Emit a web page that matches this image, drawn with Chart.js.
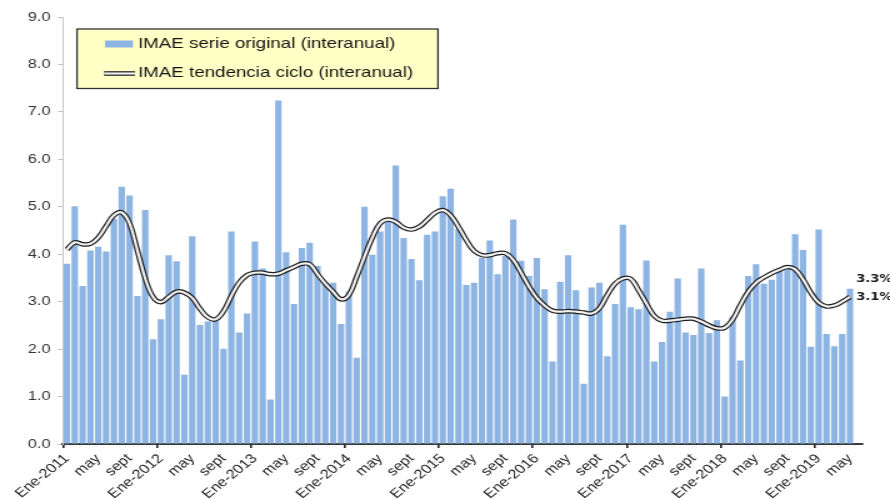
<!DOCTYPE html>
<html>
<head>
<meta charset="utf-8">
<script src="https://cdn.jsdelivr.net/npm/chart.js@4.4.1/dist/chart.umd.min.js"></script>
<style>
  html, body { margin: 0; padding: 0; background: #ffffff; overflow: hidden; }
  #wrap { width: 890px; height: 500px; overflow: hidden; }
  /* the chart is laid out narrow and widened horizontally, like the original export */
  #c { display: block; transform: scaleX(1.25); transform-origin: 0 0; }
</style>
</head>
<body>
<div id="wrap"><canvas id="c" width="712" height="500" style="width:712px;height:500px"></canvas></div>
<script>
// IMAE, variación interanual (%), enero 2011 - mayo 2019
const years = [2011, 2012, 2013, 2014, 2015, 2016, 2017, 2018, 2019];
const monthTicks = ['Ene', '', '', '', 'may', '', '', '', 'sept', '', '', ''];

const serieOriginal = [
  3.80, 5.01, 3.33, 4.08, 4.16, 4.06, 4.75, 5.42, 5.24, 3.12, 4.93, 2.21,
  2.63, 3.98, 3.85, 1.46, 4.38, 2.51, 2.58, 2.60, 2.01, 4.48, 2.35, 2.75,
  4.27, 3.70, 0.94, 7.24, 4.04, 2.95, 4.13, 4.24, 3.75, 3.40, 3.40, 2.53,
  3.21, 1.82, 5.00, 3.99, 4.48, 4.72, 5.87, 4.34, 3.90, 3.45, 4.41, 4.48,
  5.22, 5.38, 4.53, 3.35, 3.40, 3.92, 4.29, 3.58, 3.96, 4.73, 3.86, 3.54,
  3.92, 3.26, 1.74, 3.42, 3.98, 3.24, 1.27, 3.30, 3.40, 1.85, 2.95, 4.62,
  2.88, 2.84, 3.87, 1.74, 2.15, 2.79, 3.49, 2.35, 2.30, 3.70, 2.34, 2.61,
  1.00, 2.68, 1.76, 3.54, 3.79, 3.38, 3.46, 3.66, 3.77, 4.42, 4.09, 2.05,
  4.52, 2.32, 2.06, 2.32, 3.27
];

const tendenciaCiclo = [
  4.10, 4.25, 4.21, 4.22, 4.35, 4.59, 4.82, 4.88, 4.65, 4.08, 3.49, 3.10,
  2.99, 3.10, 3.21, 3.19, 3.08, 2.85, 2.67, 2.63, 2.80, 3.12, 3.40, 3.56,
  3.61, 3.61, 3.58, 3.59, 3.66, 3.73, 3.80, 3.79, 3.58, 3.38, 3.21, 3.05,
  3.14, 3.52, 3.95, 4.35, 4.65, 4.73, 4.68, 4.56, 4.52, 4.58, 4.72, 4.87,
  4.93, 4.82, 4.58, 4.30, 4.07, 3.98, 3.98, 4.02, 4.02, 3.88, 3.61, 3.32,
  3.08, 2.92, 2.81, 2.79, 2.80, 2.79, 2.77, 2.75, 2.86, 3.14, 3.38, 3.49,
  3.48, 3.24, 2.96, 2.70, 2.60, 2.60, 2.62, 2.64, 2.64, 2.58, 2.50, 2.44,
  2.45, 2.62, 2.93, 3.21, 3.40, 3.51, 3.60, 3.67, 3.73, 3.68, 3.47, 3.19,
  2.98, 2.90, 2.92, 3.00, 3.10
];

const yTicks = [0, 1, 2, 3, 4, 5, 6, 7, 8, 9];

// category labels: one per month plus a trailing empty slot at the end of the axis
const categories = [];
years.forEach(y => monthTicks.forEach((m, i) => {
  categories.push(i === 0 ? m + '-' + y : m);
}));
categories.length = serieOriginal.length;
categories.push('');

const BAR_BLUE = '#8DB4E2';
const LINE_OUT = '#1e1e1e';
const LINE_IN = '#f0f0f0';
const FONT = 'Liberation Sans, Arial, sans-serif';

// framed yellow legend inside the plot
const legendBox = {
  id: 'legendBox',
  afterDraw(chart) {
    const ctx = chart.ctx;
    const ds = chart.data.datasets;
    ctx.save();
    ctx.fillStyle = '#FFFFC6';
    ctx.fillRect(61.6, 29, 288.8, 59.5);
    ctx.strokeStyle = '#333333';
    ctx.lineWidth = 1.3;
    ctx.strokeRect(61.6, 29, 288.8, 59.5);

    ctx.fillStyle = BAR_BLUE;
    ctx.fillRect(84, 40.5, 22.4, 7);

    ctx.lineCap = 'butt';
    ctx.beginPath(); ctx.moveTo(83.2, 73.5); ctx.lineTo(108, 73.5);
    ctx.strokeStyle = LINE_OUT; ctx.lineWidth = 4.6; ctx.stroke();
    ctx.beginPath(); ctx.moveTo(83.2, 73.5); ctx.lineTo(108, 73.5);
    ctx.strokeStyle = LINE_IN; ctx.lineWidth = 2.2; ctx.stroke();

    ctx.fillStyle = '#151515';
    ctx.font = '15px ' + FONT;
    ctx.textAlign = 'left';
    ctx.textBaseline = 'middle';
    ctx.fillText(ds[0].label, 110.4, 44);
    ctx.fillText(ds[1].label, 110.4, 73);
    ctx.restore();
  }
};

// value labels next to the last month of each series
const endLabels = {
  id: 'endLabels',
  afterDatasetsDraw(chart) {
    const ctx = chart.ctx;
    const last = serieOriginal.length - 1;
    const bar = chart.getDatasetMeta(0).data[last];
    const line = chart.getDatasetMeta(1).data[last];
    ctx.save();
    ctx.font = 'bold 10.5px DejaVu Sans, sans-serif';
    ctx.fillStyle = '#1a1a1a';
    ctx.textAlign = 'left';
    ctx.textBaseline = 'middle';
    ctx.fillText(serieOriginal[last].toFixed(1) + '%', bar.x + 5, bar.y - 10);
    ctx.fillText(tendenciaCiclo[last].toFixed(1) + '%', line.x + 5, line.y);
    ctx.restore();
  }
};

new Chart(document.getElementById('c'), {
  data: {
    labels: categories,
    datasets: [
      {
        type: 'bar',
        label: 'IMAE serie original (interanual)',
        data: serieOriginal,
        backgroundColor: BAR_BLUE,
        borderWidth: 0,
        barPercentage: 0.82,
        categoryPercentage: 1.0,
        order: 3
      },
      {
        type: 'line',
        label: 'IMAE tendencia ciclo (interanual)',
        data: tendenciaCiclo,
        borderColor: LINE_OUT,
        borderWidth: 4.6,
        pointRadius: 0,
        tension: 0.4,
        fill: false,
        order: 2
      },
      {
        type: 'line',
        label: 'tendencia (trazo interior)',
        data: tendenciaCiclo,
        borderColor: LINE_IN,
        borderWidth: 2.2,
        pointRadius: 0,
        tension: 0.4,
        fill: false,
        order: 1
      }
    ]
  },
  options: {
    responsive: false,
    devicePixelRatio: 1,
    animation: false,
    layout: { padding: { left: 0, right: 22.6, top: 17, bottom: 0 } },
    plugins: {
      legend: { display: false },
      tooltip: { enabled: false }
    },
    scales: {
      x: {
        type: 'category',
        offset: true,
        grid: {
          offset: true,
          drawOnChartArea: false,
          drawTicks: true,
          tickLength: 4,
          lineWidth: 1.6,
          color: c => (c.index % 12 === 0 ? '#222222' : 'rgba(0,0,0,0)')
        },
        border: { display: true, color: '#3a3a3a', width: 2 },
        ticks: {
          autoSkip: false,
          maxRotation: 45,
          minRotation: 45,
          padding: 3,
          color: '#222222',
          font: { family: FONT, size: 13 }
        },
        afterFit(scale) { scale.height = 56; }
      },
      y: {
        min: yTicks[0],
        max: yTicks[yTicks.length - 1],
        afterBuildTicks(scale) { scale.ticks = yTicks.map(v => ({ value: v })); },
        grid: {
          drawOnChartArea: false,
          drawTicks: true,
          tickLength: 4,
          color: '#bfbfbf'
        },
        border: { display: true, color: '#c8c8c8', width: 1 },
        ticks: {
          padding: 6,
          color: '#333333',
          font: { family: FONT, size: 13 },
          callback: v => v.toFixed(1)
        },
        afterFit(scale) { scale.width = 50.4; }
      }
    }
  },
  plugins: [legendBox, endLabels]
});
</script>
</body>
</html>
